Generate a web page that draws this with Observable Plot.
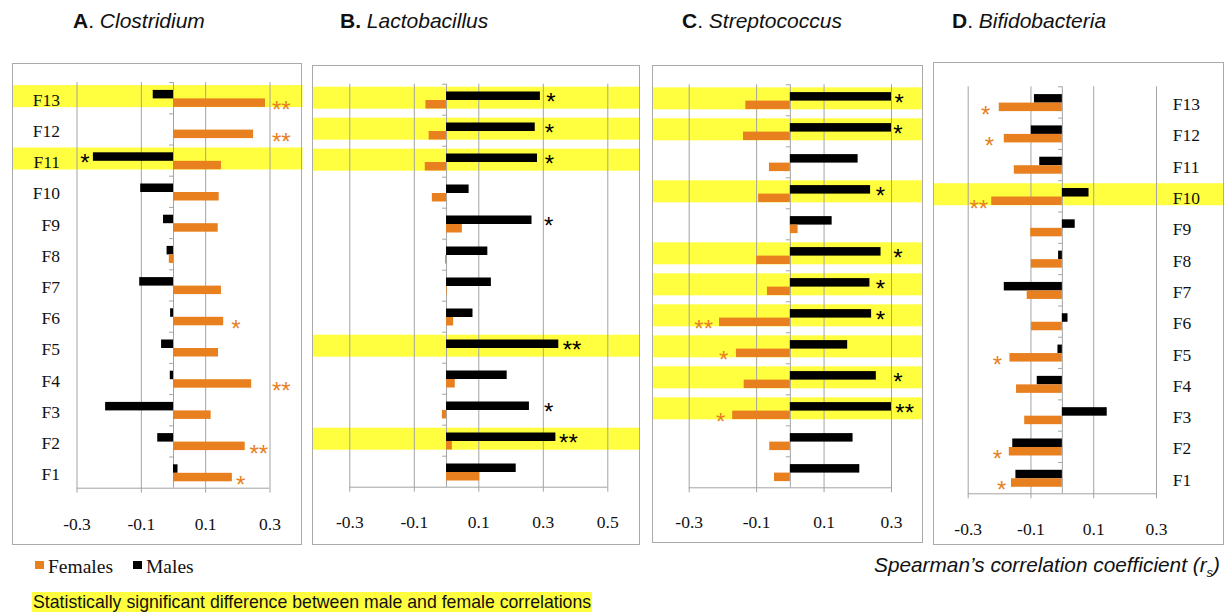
<!DOCTYPE html>
<html><head><meta charset="utf-8">
<script src="https://cdn.jsdelivr.net/npm/d3@7"></script>
<script src="https://cdn.jsdelivr.net/npm/@observablehq/plot@0.6"></script>
<style>
body{margin:0;background:#fff;}
#root{position:relative;width:1232px;height:612px;overflow:hidden;background:#fff;font-family:"Liberation Sans",Arial,sans-serif;color:#111;}
.frame{position:absolute;box-sizing:border-box;border:1.5px solid #aaaaaa;z-index:2;pointer-events:none;}
.svgbox{position:absolute;z-index:1;}
.svgbox svg{overflow:visible;display:block;}
.title{position:absolute;font-size:21px;line-height:21px;white-space:nowrap;}
.title b{font-weight:bold;}
.title i{font-style:italic;}
.leg{position:absolute;font-family:"Liberation Serif","Times New Roman",serif;font-size:19.5px;line-height:19px;white-space:nowrap;}
.sw{position:absolute;width:9px;height:8px;}
.note{position:absolute;font-size:17.7px;line-height:20px;background:#ffff40;white-space:nowrap;padding:0 1px;}
.axtitle{position:absolute;font-size:20.8px;line-height:21px;font-style:italic;white-space:nowrap;}
</style>
</head><body><div id="root"></div>
<script>
// ---------- data ----------
const factors = ["F1","F2","F3","F4","F5","F6","F7","F8","F9","F10","F11","F12","F13"];
const genera = ["Clostridium","Lactobacillus","Streptococcus","Bifidobacteria"];
const panelLetters = ["A","B","C","D"];

const clostridiumMales   = [0.014,-0.049,-0.211,-0.010,-0.037,-0.009,-0.105,-0.020,-0.031,-0.102,-0.249,0.000,-0.063];
const clostridiumFemales = [0.183,0.223,0.117,0.243,0.140,0.156,0.149,-0.013,0.139,0.142,0.149,0.249,0.286];
const lactobacillusMales   = [0.216,0.339,0.257,0.188,0.348,0.082,0.139,0.128,0.265,0.070,0.282,0.275,0.291];
const lactobacillusFemales = [0.103,0.018,-0.013,0.027,0.000,0.022,0.002,-0.003,0.049,-0.044,-0.066,-0.054,-0.064];
const streptococcusMales   = [0.206,0.186,0.300,0.255,0.170,0.241,0.236,0.269,0.124,0.238,0.201,0.300,0.300];
const streptococcusFemales = [-0.047,-0.061,-0.171,-0.137,-0.160,-0.210,-0.068,-0.100,0.023,-0.094,-0.062,-0.139,-0.132];
const bifidoMales   = [-0.148,-0.158,0.143,-0.080,-0.014,0.018,-0.185,-0.012,0.041,0.085,-0.072,-0.099,-0.089];
const bifidoFemales = [-0.162,-0.169,-0.120,-0.146,-0.167,-0.098,-0.112,-0.099,-0.101,-0.225,-0.153,-0.185,-0.201];

const clostridiumHighlight   = ["F13","F11"];
const lactobacillusHighlight = ["F13","F12","F11","F5","F2"];
const streptococcusHighlight = ["F13","F12","F10","F8","F7","F6","F5","F4","F3"];
const bifidoHighlight        = ["F10"];

// significance marks: factor, sex, symbol, x anchor (in r_s units)
const clostridiumStars = [["F13","F","**",0.335],["F12","F","**",0.335],["F11","M","*",-0.275],["F6","F","*",0.194],["F4","F","**",0.335],["F2","F","**",0.265],["F1","F","*",0.209]];
const lactobacillusStars = [["F13","M","*",0.324],["F12","M","*",0.319],["F11","M","*",0.319],["F9","M","*",0.317],["F5","M","**",0.389],["F3","M","*",0.317],["F2","M","**",0.378]];
const streptococcusStars = [["F13","M","*",0.323],["F12","M","*",0.319],["F10","M","*",0.267],["F8","M","*",0.319],["F7","M","*",0.267],["F6","M","*",0.267],["F6","F","**",-0.257],["F5","F","*",-0.198],["F4","M","*",0.319],["F3","M","**",0.339],["F3","F","*",-0.207]];
const bifidoStars = [["F13","F","*",-0.244],["F12","F","*",-0.232],["F10","F","**",-0.266],["F5","F","*",-0.207],["F2","F","*",-0.207],["F1","F","*",-0.193]];

const ticksNarrow = [-0.3,-0.1,0.1,0.3];
const ticksWide = [-0.3,-0.1,0.1,0.3,0.5];

// ---------- style / layout ----------
const ORANGE = "#e8801f", BLACK = "#000", YELLOW = "#ffff40", GRID = "#a3a3a3";
const SERIF = "Liberation Serif, Times New Roman, serif";
const SANS = "Liberation Sans, Arial, sans-serif";

const layouts = [
  {frame:[11.5,63,302,545], x:[76,269], y:[82.1,487.7], labelY:516.7, side:"left", labelX:59, titleX:73},
  {frame:[312,65,640,545], x:[349.3,607.3], y:[83.7,486.7], labelY:515, titleX:340},
  {frame:[652,65,923,543], x:[688.7,891], y:[84.3,487.3], labelY:515, titleX:682},
  {frame:[933,62,1224,545], x:[967.7,1156], y:[86.3,493.3], labelY:521.7, side:"right", labelX:1172.3, titleX:952}
];
const panelData = [
  {m:clostridiumMales, f:clostridiumFemales, hl:clostridiumHighlight, stars:clostridiumStars, ticks:ticksNarrow},
  {m:lactobacillusMales, f:lactobacillusFemales, hl:lactobacillusHighlight, stars:lactobacillusStars, ticks:ticksWide},
  {m:streptococcusMales, f:streptococcusFemales, hl:streptococcusHighlight, stars:streptococcusStars, ticks:ticksNarrow},
  {m:bifidoMales, f:bifidoFemales, hl:bifidoHighlight, stars:bifidoStars, ticks:ticksNarrow}
];

const root = document.getElementById("root");

function addDiv(cls, css, html){
  const d = document.createElement("div");
  d.className = cls; Object.assign(d.style, css);
  if (html != null) d.innerHTML = html;
  root.appendChild(d); return d;
}

panelData.forEach((pd, k) => {
  const L = layouts[k];
  const [fl, ft, fr, fb] = L.frame;
  const W = fr - fl, H = fb - ft;
  const order = factors.slice().reverse();
  const rows = factors.map((f,i) => ({f, m: pd.m[i], w: pd.f[i]}));
  const stars = pd.stars.map(([f,sex,s,x]) => ({f,sex,s,x}));
  const y0 = L.y[0]-ft, y1 = L.y[1]-ft;
  const step = (y1-y0)/13;
  const t0 = pd.ticks[0], t1 = pd.ticks[pd.ticks.length-1];
  const marks = [
    Plot.cell(pd.hl, {y: d=>d, fill: YELLOW, insetTop: 3, insetBottom: step-25}),
    Plot.ruleX(pd.ticks, {stroke: GRID, strokeWidth: 1, insetTop: y0, insetBottom: H-y1-5}),
    Plot.ruleX([0], {stroke: GRID, strokeWidth: 1, insetTop: y0, insetBottom: H-y1}),
    Plot.ruleY(order, {x1: -0.012, x2: 0, dy: -step/2, stroke: GRID}),
    Plot.ruleY(["F1"], {x1: t0, x2: t1, dy: step/2, stroke: GRID}),
    Plot.barX(rows, {y:"f", x:"m", fill: BLACK, insetTop: 7.8, insetBottom: step-16.3}),
    Plot.barX(rows, {y:"f", x:"w", fill: ORANGE, insetTop: 16.3, insetBottom: step-24.8}),
    Plot.text(pd.ticks, {x: d=>d, text: d=>String(d), frameAnchor:"top", dy: L.labelY-ft, fontSize: 17.5, fontFamily: SERIF, fill:"#111"}),
    Plot.text(stars.filter(d=>d.sex==="M"), {x:"x", y:"f", text:"s", fill: BLACK, dy: -3.5+6.5, fontSize: 24, fontFamily: SANS}),
    Plot.text(stars.filter(d=>d.sex==="F"), {x:"x", y:"f", text:"s", fill: ORANGE, dy: 5+7.5, fontSize: 24, fontFamily: SANS})
  ];
  if (L.side) {
    marks.push(Plot.text(order, {y: d=>d, text: d=>d, frameAnchor:"left", dx: L.labelX-fl,
      textAnchor: L.side==="left" ? "end" : "start", dy: 2, fontSize: 17.5, fontFamily: SERIF, fill:"#111"}));
  }
  const svg = Plot.plot({
    width: W, height: H, margin: 0,
    style: {background:"transparent", overflow:"visible"},
    x: {domain:[t0,t1], range:[L.x[0]-fl, L.x[1]-fl], axis: null},
    y: {type:"band", domain: order, range:[y0,y1], padding:0, round:false, axis:null},
    marks
  });
  const box = addDiv("svgbox", {left: fl+"px", top: ft+"px", width: W+"px", height: H+"px"});
  box.appendChild(svg);
  addDiv("frame", {left: fl+"px", top: ft+"px", width: W+"px", height: H+"px"});
  const dot = k===1 ? "<b>.</b>" : ".";
  addDiv("title", {left: L.titleX+"px", top: "10px"}, `<b>${panelLetters[k]}</b>${dot} <i>${genera[k]}</i>`);
});

// legend
addDiv("sw", {left:"35px", top:"561px", background: ORANGE});
addDiv("leg", {left:"48px", top:"557px"}, "Females");
addDiv("sw", {left:"133px", top:"561px", background: BLACK});
addDiv("leg", {left:"146px", top:"557px"}, "Males");
addDiv("note", {left:"32px", top:"592px"}, "Statistically significant difference between male and female correlations");
const ax = addDiv("axtitle", {top:"554px"}, "Spearman’s correlation coefficient (<i>r</i><sub style='font-size:13px'>s</sub>)");
ax.style.left = (1220 - ax.getBoundingClientRect().width) + "px";
</script>
</body></html>
